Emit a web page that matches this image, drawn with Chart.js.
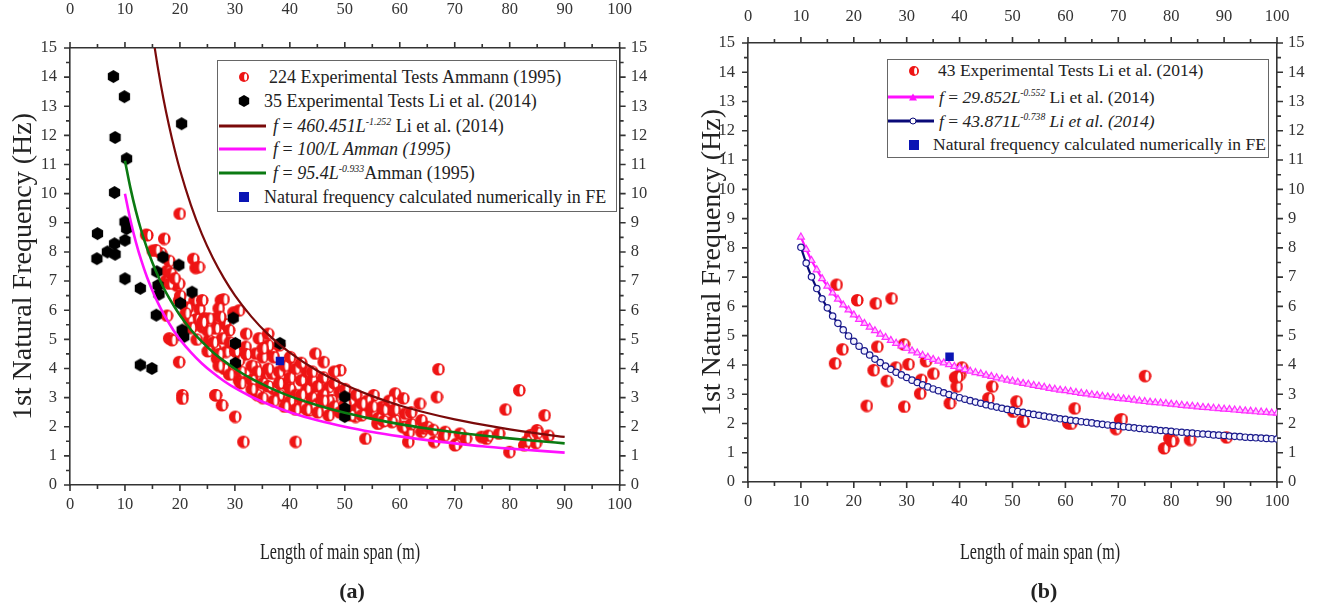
<!DOCTYPE html>
<html>
<head>
<meta charset="utf-8">
<script src="https://cdn.jsdelivr.net/npm/chart.js@4.4.1/dist/chart.umd.min.js"></script>
<style>
  body { margin: 0; background: #fff; width: 1320px; height: 603px; position: relative; overflow: hidden; font-family: "Liberation Serif", serif; color: #222; }
  canvas { position: absolute; top: 0; }
  #chartA { left: 0; }
  #chartB { left: 660px; }
  .legend { position: absolute; border: 1.5px solid #666; background: #fff; box-sizing: border-box; }
  .row { position: absolute; white-space: nowrap; transform: translateY(-50%); line-height: 1; }
  .line { position: absolute; height: 3px; transform: translateY(-50%); }
  .mk { position: absolute; transform: translate(-50%, -50%); }
  i { font-style: italic; }
  sup { font-size: 0.55em; vertical-align: 0.7em; }
  .xtitle { position: absolute; top: 539px; width: 300px; text-align: center; font-size: 23px; transform: scaleX(0.7); white-space: nowrap; }
  .panel { position: absolute; top: 578px; width: 60px; text-align: center; font-size: 22px; font-weight: bold; }
</style>
</head>
<body>
<canvas id="chartA" width="660" height="603"></canvas>
<canvas id="chartB" width="660" height="603"></canvas>

<div class="legend" id="legA" style="left:217px;top:60px;width:400px;height:152px;font-size:18px">
  <span class="mk" id="legA1" style="left:26px;top:16px"></span>
  <div class="row" style="left:51px;top:16px">224 Experimental Tests Ammann (1995)</div>
  <span class="mk" id="legA2" style="left:26px;top:40px"></span>
  <div class="row" style="left:46px;top:40px">35 Experimental Tests Li et al. (2014)</div>
  <span class="line" style="left:1px;top:65px;width:47px;background:#7a0a0a"></span>
  <div class="row" style="left:55px;top:65px"><i>f</i> = <i>460.451L</i><sup><i>-1.252</i></sup> Li et al. (2014)</div>
  <span class="line" style="left:1px;top:88px;width:47px;background:#ff10ff"></span>
  <div class="row" style="left:55px;top:88px"><i>f</i> = <i>100/L Amman (1995)</i></div>
  <span class="line" style="left:1px;top:112px;width:47px;background:#0b7a12"></span>
  <div class="row" style="left:55px;top:112px"><i>f</i> = <i>95.4L</i><sup><i>-0.933</i></sup>Amman (1995)</div>
  <span class="mk" style="left:26px;top:136px;width:10px;height:10px;background:#0a14b4"></span>
  <div class="row" style="left:46px;top:136px">Natural frequency calculated numerically in FE</div>
</div>

<div class="legend" id="legB" style="left:887px;top:59px;width:382px;height:99px;font-size:17.5px">
  <span class="mk" id="legB1" style="left:26px;top:11px"></span>
  <div class="row" style="left:50px;top:11px">43 Experimental Tests Li et al. (2014)</div>
  <span class="line" style="left:0;top:37px;width:46px;background:#ff10ff"></span>
  <span class="mk" style="left:25px;top:37px;width:0;height:0;border-left:4px solid transparent;border-right:4px solid transparent;border-bottom:7px solid #ff10ff"></span>
  <div class="row" style="left:51px;top:37px"><i>f</i> = <i>29.852L</i><sup><i>-0.552</i></sup> Li et al. (2014)</div>
  <span class="line" style="left:0;top:61px;width:46px;background:#0a0a78"></span>
  <span class="mk" style="left:25px;top:61px;width:5px;height:5px;border:1.5px solid #0a0a78;border-radius:50%;background:#fff"></span>
  <div class="row" style="left:51px;top:61px"><i>f</i> = <i>43.871L</i><sup><i>-0.738</i></sup> <i>Li et al. (2014)</i></div>
  <span class="mk" style="left:26px;top:85px;width:10px;height:10px;background:#0a14b4"></span>
  <div class="row" style="left:45px;top:85px">Natural frequency calculated numerically in FE</div>
</div>

<div class="xtitle" style="left:190px">Length of main span (m)</div>
<div class="xtitle" style="left:890px">Length of main span (m)</div>
<div class="panel" style="left:322px">(a)</div>
<div class="panel" style="left:1014px">(b)</div>

<script>
'use strict';

// tick labels
const spanTicks = [0, 10, 20, 30, 40, 50, 60, 70, 80, 90, 100];
const freqTicks = [0, 1, 2, 3, 4, 5, 6, 7, 8, 9, 10, 11, 12, 13, 14, 15];

// (a) fitted curves, read at these spans
const spanA = [10, 11, 12, 13, 14, 15, 16, 17, 18, 19, 20, 22, 24, 26, 28, 30, 33, 36, 40, 45, 50, 55, 60, 65, 70, 75, 80, 85, 90];
const liFitA = [null, null, null, null, null, 15.51, 14.31, 13.26, 12.35, 11.54, 10.82, 9.61, 8.61, 7.79, 7.10, 6.51, 5.78, 5.18, 4.54, 3.92, 3.44, 3.05, 2.73, 2.47, 2.25, 2.07, 1.91, 1.77, 1.65];
const ammanInvA = [10, 9.09, 8.33, 7.69, 7.14, 6.67, 6.25, 5.88, 5.56, 5.26, 5.00, 4.55, 4.17, 3.85, 3.57, 3.33, 3.03, 2.78, 2.50, 2.22, 2.00, 1.82, 1.67, 1.54, 1.43, 1.33, 1.25, 1.18, 1.11];
const ammanFitA = [11.13, 10.19, 9.39, 8.71, 8.13, 7.63, 7.18, 6.78, 6.43, 6.12, 5.83, 5.33, 4.92, 4.56, 4.26, 3.99, 3.65, 3.37, 3.05, 2.74, 2.48, 2.27, 2.09, 1.94, 1.81, 1.70, 1.60, 1.51, 1.43];

// (a) experimental tests [span, frequency]
const ammannTests = [
  [19.9, 9.32], [13.8, 8.6], [17.1, 8.46], [15, 8.05], [16.5, 7.96], [22.4, 7.77], [22.8, 7.46], [17.6, 7.36],
  [17.4, 7.02], [19.4, 6.85], [27.4, 6.35], [22.6, 6.33], [23.5, 6.05], [21.2, 6.1], [29.7, 5.93], [22.9, 5.7],
  [24.4, 5.73], [26.5, 5.73], [28.2, 5.53], [17.6, 5.82], [14.0, 8.58], [15.6, 8.07], [23.4, 7.49], [18.3, 7.27],
  [19.8, 6.92], [18, 6.92], [24, 6.35], [27.9, 6.38], [19.8, 6.35], [21.3, 6.07], [27, 6.07], [30.7, 6.0],
  [25.2, 5.72], [27.3, 5.78], [24, 5.43], [26.4, 5.38], [28.9, 5.32], [21.6, 5.66], [18, 5.04], [25.2, 4.98],
  [27.6, 5.04], [34.3, 5.04], [31.9, 4.75], [26.4, 4.69], [28.3, 4.58], [33.7, 4.52], [36.7, 4.52], [40.3, 4.06],
  [33.7, 4.06], [30.7, 4.29], [26.7, 4.35], [31.9, 3.83], [35.5, 3.83], [38.2, 3.72], [19.8, 4.23], [28.9, 3.83],
  [30.7, 3.6], [33.7, 3.37], [39.1, 3.49], [20.4, 3.09], [26.4, 3.09], [44.6, 4.52], [46.1, 4.23], [49.1, 3.95],
  [67, 3.98], [66.7, 3.03], [41, 1.49], [53.7, 1.6], [59.1, 3.15], [60.6, 2.98], [63.6, 2.8], [55.2, 3.09],
  [53.5, 2.8], [53.7, 2.57], [56.7, 2.69], [58.5, 2.57], [60.9, 2.46], [63.9, 2.23], [47, 3.37], [47.6, 2.92],
  [51.9, 2.35], [56.1, 2.12], [59.1, 2.23], [60.9, 2.0], [61.5, 1.49], [63.9, 1.83], [68.2, 1.83], [70.3, 1.43],
  [70.9, 1.77], [74.8, 1.66], [44.6, 3.15], [42.2, 2.92], [43.4, 2.57], [39.7, 3.49], [36.7, 3.83], [34.3, 3.26],
  [33.1, 3.6], [81.7, 3.26], [79.2, 2.6], [86.3, 2.4], [84.9, 1.89], [79.9, 1.14], [82.6, 1.37], [75.7, 1.6],
  [78, 1.77], [31.5, 1.49], [30, 2.35], [27.6, 2.75], [26.5, 3.09], [20.4, 2.97], [18.5, 4.98], [84.7, 1.45],
  [83.7, 1.72], [70, 1.37], [66.2, 1.49], [64.3, 1.95], [61.6, 1.83], [60.5, 2.0], [58.5, 2.17], [55.9, 2.12],
  [54.4, 2.57], [51.3, 2.52], [52.1, 2.8], [32, 4.5], [33, 4.1], [34, 3.9], [35, 4.4], [35, 3.5], [36, 4.8],
  [36, 4.0], [37, 3.3], [37, 4.4], [38, 3.9], [38, 3.5], [39, 4.1], [39, 3.0], [40, 3.7], [40, 3.3], [41, 4.0],
  [41, 3.1], [42, 3.6], [42, 2.7], [43, 3.9], [43, 3.3], [44, 3.0], [44, 3.6], [45, 2.8], [45, 3.4], [46, 3.1],
  [46, 2.6], [47, 2.9], [48, 3.5], [48, 2.7], [49, 3.2], [49, 2.5], [51, 2.9], [52, 3.1], [52, 2.6], [53, 2.4],
  [54, 2.9], [55, 2.5], [56, 2.3], [57, 2.6], [58, 2.9], [31, 3.9], [30, 4.6], [29, 4.9], [28, 4.0], [27, 4.5],
  [26, 4.9], [25, 5.3], [24, 5.6], [32, 5.2], [33, 3.6], [34, 3.1], [36, 3.4], [38, 3.1], [40, 2.9], [42, 3.1],
  [44, 2.7], [46, 2.9], [47, 2.4], [50, 2.8], [50, 3.3], [51, 2.4], [53, 2.8], [55, 2.7], [57, 2.2], [59, 2.6],
  [62, 2.5], [62, 2.1], [65, 2.0], [66, 1.9], [68, 1.7], [72, 1.6], [76, 1.7], [83, 1.5], [85, 1.8], [87, 1.7],
  [37, 2.9], [39, 2.7], [41, 2.6], [43, 2.6], [45, 2.5], [35, 3.0], [33, 3.3], [31, 3.5], [29, 3.8], [27, 4.1],
  [25, 4.6], [23, 5.0], [22, 5.4], [21, 5.9], [20, 6.5], [19, 7.1], [18, 7.7], [36, 5.2], [38, 4.8], [35, 4.7],
  [40, 4.4], [42, 4.2], [44, 3.9], [46, 3.7], [48, 3.9]
];
const liTestsA = [
  [4.9, 7.77], [5, 8.63], [6.8, 8.0], [8.1, 8.28], [8.2, 7.92], [7.9, 14.02], [9.9, 13.33], [8.2, 11.93],
  [10.3, 11.2], [8.1, 10.04], [10, 9.03], [10.3, 8.8], [10, 8.4], [10, 7.08], [12.8, 6.75], [16.9, 7.82],
  [19.8, 7.55], [15.8, 7.32], [16, 6.85], [16.2, 6.55], [22.2, 6.62], [20.1, 6.24], [15.7, 5.83], [20.3, 12.4],
  [20.4, 5.32], [20.7, 5.09], [29.7, 5.73], [30.1, 4.86], [30.1, 4.18], [38.2, 4.86], [12.8, 4.12], [14.9, 4.0],
  [50, 3.03], [50, 2.63], [50, 2.35]
];
const feResult = [[38.2, 4.26]];

// (b) fitted curves
const spanB = [10, 11, 12, 13, 14, 15, 16, 17, 18, 19, 20, 21, 22, 23, 24, 25, 26, 27, 28, 29, 30, 31, 32, 33, 34, 35, 36, 37, 38, 39,
  40, 41, 42, 43, 44, 45, 46, 47, 48, 49, 50, 51, 52, 53, 54, 55, 56, 57, 58, 59, 60, 61, 62, 63, 64, 65, 66, 67, 68, 69,
  70, 71, 72, 73, 74, 75, 76, 77, 78, 79, 80, 81, 82, 83, 84, 85, 86, 87, 88, 89, 90, 91, 92, 93, 94, 95, 96, 97, 98, 99, 100];
const liFitB1 = [8.37, 7.95, 7.57, 7.25, 6.95, 6.69, 6.46, 6.25, 6.05, 5.88, 5.71, 5.56, 5.42, 5.29, 5.17, 5.05, 4.94, 4.84, 4.74, 4.65,
  4.57, 4.48, 4.41, 4.33, 4.26, 4.19, 4.13, 4.07, 4.01, 3.95, 3.90, 3.84, 3.79, 3.74, 3.70, 3.65, 3.61, 3.56, 3.52, 3.48,
  3.45, 3.41, 3.37, 3.34, 3.30, 3.27, 3.24, 3.20, 3.17, 3.14, 3.12, 3.09, 3.06, 3.03, 3.01, 2.98, 2.96, 2.93, 2.91, 2.88,
  2.86, 2.84, 2.82, 2.80, 2.77, 2.75, 2.73, 2.71, 2.70, 2.68, 2.66, 2.64, 2.62, 2.60, 2.59, 2.57, 2.55, 2.54, 2.52, 2.51,
  2.49, 2.48, 2.46, 2.45, 2.43, 2.42, 2.40, 2.39, 2.38, 2.36, 2.35];
const liFitB2 = [8.02, 7.48, 7.01, 6.61, 6.26, 5.95, 5.67, 5.42, 5.20, 4.99, 4.81, 4.64, 4.48, 4.34, 4.20, 4.08, 3.96, 3.85, 3.75, 3.66,
  3.57, 3.48, 3.40, 3.32, 3.25, 3.18, 3.12, 3.05, 2.99, 2.94, 2.88, 2.83, 2.78, 2.73, 2.69, 2.64, 2.60, 2.56, 2.52, 2.48,
  2.45, 2.41, 2.38, 2.34, 2.31, 2.28, 2.25, 2.22, 2.19, 2.16, 2.14, 2.11, 2.09, 2.06, 2.04, 2.02, 1.99, 1.97, 1.95, 1.93,
  1.91, 1.89, 1.87, 1.85, 1.83, 1.81, 1.80, 1.78, 1.76, 1.75, 1.73, 1.71, 1.70, 1.68, 1.67, 1.65, 1.64, 1.63, 1.61, 1.60,
  1.59, 1.57, 1.56, 1.55, 1.53, 1.52, 1.51, 1.50, 1.49, 1.48, 1.47];

// (b) experimental tests
const liTestsB = [
  [16.7, 6.75], [20.6, 6.22], [24.1, 6.11], [27.1, 6.28], [16.4, 4.06], [17.8, 4.54], [24.4, 4.63], [23.7, 3.83],
  [26.2, 3.46], [22.4, 2.61], [29.5, 2.58], [27.9, 3.92], [30.3, 4.03], [29.4, 4.71], [33.6, 4.14], [32.7, 3.5],
  [32.5, 3.03], [35, 3.71], [38.1, 2.7], [39.1, 3.58], [39.4, 3.27], [40, 3.67], [40.4, 3.92], [46.1, 3.27],
  [45.4, 2.87], [50.7, 2.76], [50.1, 2.41], [51.9, 2.07], [61.7, 2.52], [60.5, 2.02], [70.3, 2.13], [69.5, 1.82],
  [75, 3.63], [78.6, 1.16], [79.6, 1.5], [80.3, 1.42], [83.5, 1.45], [90.4, 1.53], [39.5, 3.6], [52, 2.1],
  [70.6, 2.15], [80, 1.4], [61, 2.0]
];
const feResultB = [[38.1, 4.28]];

const RED = '#ee1414';
const pts = arr => arr.map(p => ({ x: p[0], y: p[1] }));
const curve = (xs, ys) => xs.map((x, i) => ({ x: x, y: ys[i] }));

function redMarker(r) {
  const c = document.createElement('canvas');
  const s = 2 * r + 2;
  c.width = s; c.height = s;
  const g = c.getContext('2d');
  g.fillStyle = RED;
  g.beginPath(); g.arc(s / 2, s / 2, r, 0, Math.PI * 2); g.fill();
  g.fillStyle = '#fff';
  g.beginPath(); g.ellipse(s / 2 + r * 0.32, s / 2, r * 0.3, r * 0.72, 0, 0, Math.PI * 2); g.fill();
  return c;
}

function hexMarker(r) {
  const c = document.createElement('canvas');
  const s = 2 * r + 2;
  c.width = s; c.height = s;
  const g = c.getContext('2d');
  g.fillStyle = '#000';
  g.beginPath();
  for (let i = 0; i < 6; i++) {
    const a = Math.PI / 6 + i * Math.PI / 3;
    g.lineTo(s / 2 + r * Math.cos(a), s / 2 + r * Math.sin(a));
  }
  g.closePath(); g.fill();
  return c;
}

const redDot = redMarker(6.3);
const hexDot = hexMarker(6.5);

// legend icons
function putIcon(id, cnv) {
  const img = document.createElement('img');
  img.src = cnv.toDataURL();
  document.getElementById(id).appendChild(img);
  img.style.display = 'block';
}
putIcon('legA1', redMarker(5));
putIcon('legA2', hexMarker(6));
putIcon('legB1', redMarker(5));

// outward major and minor ticks on all four sides
const frameTicks = {
  id: 'frameTicks',
  afterDraw(chart) {
    const ctx = chart.ctx;
    const a = chart.chartArea;
    const xs = chart.scales.x, ys = chart.scales.y;
    ctx.save();
    ctx.strokeStyle = '#333';
    ctx.lineWidth = 1.6;
    ctx.beginPath();
    spanTicks.forEach((v, i) => {
      const marks = [[v, 6]];
      if (i < spanTicks.length - 1) marks.push([(v + spanTicks[i + 1]) / 2, 4]);
      marks.forEach(m => {
        const px = xs.getPixelForValue(m[0]);
        ctx.moveTo(px, a.bottom); ctx.lineTo(px, a.bottom + m[1]);
        ctx.moveTo(px, a.top); ctx.lineTo(px, a.top - m[1]);
      });
    });
    freqTicks.forEach((v, i) => {
      const marks = [[v, 6]];
      if (i < freqTicks.length - 1) marks.push([(v + freqTicks[i + 1]) / 2, 4]);
      marks.forEach(m => {
        const py = ys.getPixelForValue(m[0]);
        ctx.moveTo(a.left, py); ctx.lineTo(a.left - m[1], py);
        ctx.moveTo(a.right, py); ctx.lineTo(a.right + m[1], py);
      });
    });
    ctx.stroke();
    ctx.restore();
  }
};

function makeScales(o) {
  const tickFont = { family: 'Liberation Serif', size: 16.5 };
  const base = (pos, ticks, pad, size, title) => ({
    type: 'linear',
    position: pos,
    min: ticks[0],
    max: ticks[ticks.length - 1],
    grid: { display: false, drawTicks: false },
    border: { display: true, color: '#333', width: 1.6 },
    ticks: { font: tickFont, color: '#333', padding: pad, autoSkip: false, maxRotation: 0 },
    afterBuildTicks: s => { s.ticks = ticks.map(v => ({ value: v })); },
    afterFit: s => { if (pos === 'left' || pos === 'right') s.width = size; else s.height = size; },
    title: title || { display: false }
  });
  return {
    x: base('bottom', spanTicks, o.bottomPad, o.bottom),
    x2: base('top', spanTicks, o.topPad, o.top),
    y: base('left', freqTicks, 13, o.left, {
      display: true, text: '1st Natural Frequency (Hz)', color: '#222',
      font: { family: 'Liberation Serif', size: 28 }, padding: { top: o.titlePad, bottom: 0 }
    }),
    y2: base('right', freqTicks, 11, o.right)
  };
}

const commonOptions = {
  responsive: false,
  animation: false,
  layout: { padding: 0 },
  plugins: { legend: { display: false }, tooltip: { enabled: false } }
};

// (a)
new Chart(document.getElementById('chartA'), {
  type: 'scatter',
  data: {
    datasets: [
      { label: 'FE', data: pts(feResult), pointStyle: 'rect', pointRadius: 6, backgroundColor: '#0a14b4', borderWidth: 0, order: 0 },
      { label: 'f=460.451L^-1.252', type: 'line', data: curve(spanA, liFitA), borderColor: '#7a0a0a', borderWidth: 2.2, pointRadius: 0, cubicInterpolationMode: 'monotone', order: 1 },
      { label: 'f=100/L', type: 'line', data: curve(spanA, ammanInvA), borderColor: '#ff10ff', borderWidth: 2.6, pointRadius: 0, cubicInterpolationMode: 'monotone', order: 1 },
      { label: 'f=95.4L^-0.933', type: 'line', data: curve(spanA, ammanFitA), borderColor: '#0b7a12', borderWidth: 2.6, pointRadius: 0, cubicInterpolationMode: 'monotone', order: 1 },
      { label: '35 Experimental Tests Li et al. (2014)', data: pts(liTestsA), pointStyle: hexDot, order: 2 },
      { label: '224 Experimental Tests Ammann (1995)', data: pts(ammannTests), pointStyle: redDot, order: 3 }
    ]
  },
  options: Object.assign({}, commonOptions, {
    scales: makeScales({ left: 70, right: 38, top: 48, bottom: 118, topPad: 28, bottomPad: 10, titlePad: 7 })
  }),
  plugins: [frameTicks]
});

// (b)
new Chart(document.getElementById('chartB'), {
  type: 'scatter',
  data: {
    datasets: [
      { label: 'FE', data: pts(feResultB), pointStyle: 'rect', pointRadius: 6, backgroundColor: '#0a14b4', borderWidth: 0, order: 0 },
      { label: 'f=43.871L^-0.738', type: 'line', data: curve(spanB, liFitB2), borderColor: '#0a0a78', borderWidth: 2.2, pointStyle: 'circle', pointRadius: 3.2, pointBorderWidth: 1.2, pointBackgroundColor: '#f4f4ff', pointBorderColor: '#1a1a8c', tension: 0, order: 1 },
      { label: 'f=29.852L^-0.552', type: 'line', data: curve(spanB, liFitB1), borderColor: '#ff10ff', borderWidth: 2.2, pointStyle: 'triangle', pointRadius: 4, pointBorderWidth: 1.2, pointBackgroundColor: '#ffc4ff', pointBorderColor: '#ff30ff', tension: 0, order: 2 },
      { label: '43 Experimental Tests Li et al. (2014)', data: pts(liTestsB), pointStyle: redDot, order: 3 }
    ]
  },
  options: Object.assign({}, commonOptions, {
    scales: makeScales({ left: 88, right: 43, top: 43, bottom: 121, topPad: 16, bottomPad: 10, titlePad: 36 })
  }),
  plugins: [frameTicks]
});
</script>
</body>
</html>
